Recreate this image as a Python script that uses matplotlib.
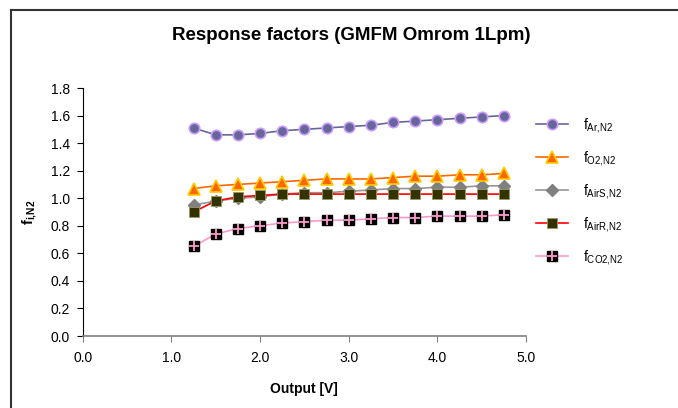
import matplotlib
matplotlib.use("Agg")
import matplotlib.pyplot as plt
from matplotlib.lines import Line2D

plt.rcParams['font.family'] = ['Liberation Sans', 'DejaVu Sans']
plt.rcParams['mathtext.fontset'] = 'custom'
plt.rcParams['mathtext.rm'] = 'Liberation Sans'
plt.rcParams['mathtext.it'] = 'Liberation Sans'
plt.rcParams['mathtext.bf'] = 'Liberation Sans:bold'

output_v = [1.25, 1.5, 1.75, 2.0, 2.25, 2.5, 2.75, 3.0, 3.25, 3.5, 3.75, 4.0, 4.25, 4.5, 4.75]
f_ar = [1.51, 1.46, 1.46, 1.47, 1.49, 1.50, 1.51, 1.52, 1.53, 1.55, 1.56, 1.57, 1.58, 1.59, 1.60]
f_o2 = [1.07, 1.09, 1.10, 1.11, 1.12, 1.13, 1.14, 1.14, 1.14, 1.15, 1.16, 1.16, 1.17, 1.17, 1.18]
f_airs = [0.95, 0.98, 1.00, 1.01, 1.03, 1.04, 1.04, 1.05, 1.06, 1.07, 1.07, 1.08, 1.08, 1.09, 1.09]
f_airr = [0.90, 0.98, 1.01, 1.02, 1.03, 1.03, 1.03, 1.03, 1.03, 1.03, 1.03, 1.03, 1.03, 1.03, 1.03]
f_co2 = [0.65, 0.74, 0.78, 0.80, 0.82, 0.83, 0.84, 0.84, 0.85, 0.86, 0.86, 0.87, 0.87, 0.87, 0.88]

labels = [r'f$_{\mathrm{Ar{,}N2}}$', r'f$_{\mathrm{O2{,}N2}}$', r'f$_{\mathrm{AirS{,}N2}}$',
          r'f$_{\mathrm{AirR{,}N2}}$', r'f$_{\mathrm{CO2{,}N2}}$']
x_ticks = [0.0, 1.0, 2.0, 3.0, 4.0, 5.0]
y_ticks = [0.0, 0.2, 0.4, 0.6, 0.8, 1.0, 1.2, 1.4, 1.6, 1.8]

W, H = 678, 408
fig = plt.figure(figsize=(W / 100, H / 100), dpi=100)
ax = fig.add_axes([82.7 / W, 1 - 336 / H, (526 - 82.7) / W, (336 - 88) / H])

h_ar, = ax.plot(output_v, f_ar, color='#666699', lw=1.2, marker='o', ms=7.5,
                mfc='#666699', mec='#CC99FF', mew=1.2, zorder=5)
h_o2, = ax.plot(output_v, f_o2, color='#FF6600', lw=1.2, marker='^', ms=9,
                mfc='#FF6600', mec='#FFCC00', mew=1.2, zorder=4)
h_airs, = ax.plot(output_v, f_airs, color='#969696', lw=1.2, marker='D', ms=6,
                  mfc='#808080', mec='#808080', zorder=3)
h_airr, = ax.plot(output_v, f_airr, color='#FF0000', lw=1.2, marker='s', ms=7,
                  mfc='#333300', mec='#999966', mew=0.6, zorder=3.5)
h_co2, = ax.plot(output_v, f_co2, color='#FF99CC', lw=1.2, marker='s', ms=7.8,
                 mfc='black', mec='black', zorder=3)
h_co2p, = ax.plot(output_v, f_co2, ls='none', marker='+', ms=7, mew=1.3,
                  color='#FF99CC', zorder=3.2)

ax.set_xlim(0, 5)
ax.set_ylim(0, 1.8)
ax.set_xticks(x_ticks)
ax.set_xticklabels([f'{v:.1f}' for v in x_ticks])
ax.set_yticks(y_ticks)
ax.set_yticklabels([f'{v:.1f}' for v in y_ticks])
for s in ['top', 'right']:
    ax.spines[s].set_visible(False)
ax.spines['left'].set_color('black')
ax.spines['left'].set_linewidth(0.8)
ax.spines['bottom'].set_color('#808080')
ax.spines['bottom'].set_linewidth(1.2)
ax.tick_params(axis='both', labelsize=10, direction='out', length=4, width=0.8, pad=5)
ax.tick_params(axis='x', colors='#808080', labelcolor='black', pad=7)
ax.tick_params(axis='y', colors='black')

ax.set_xlabel('Output [V]', fontsize=10, fontweight='bold', labelpad=12)
fig.text(30 / W, 1 - 212 / H, r'$\mathbf{f}_{\mathbf{i{,}N2}}$', rotation=90,
         fontsize=10.5, ha='center', va='center')
fig.text(351 / W, 1 - 35 / H, 'Response factors (GMFM Omrom 1Lpm)',
         fontsize=13.5, fontweight='bold', ha='center', va='center')

ax.legend([h_ar, h_o2, h_airs, h_airr, (h_co2, h_co2p)], labels,
          loc='upper left', bbox_to_anchor=(536 / W, 1 - 116 / H),
          bbox_transform=fig.transFigure, frameon=False, fontsize=10,
          handlelength=2.3, handletextpad=1.1, labelspacing=1.0, borderpad=0,
          borderaxespad=0)

fig.add_artist(Line2D([11 / W, 11 / W], [0, 1 - 10 / H], transform=fig.transFigure,
                      color='#333333', lw=1.5))
fig.add_artist(Line2D([11 / W, 1], [1 - 10 / H, 1 - 10 / H], transform=fig.transFigure,
                      color='#333333', lw=1.5))

fig.savefig('out.png', dpi=100)
